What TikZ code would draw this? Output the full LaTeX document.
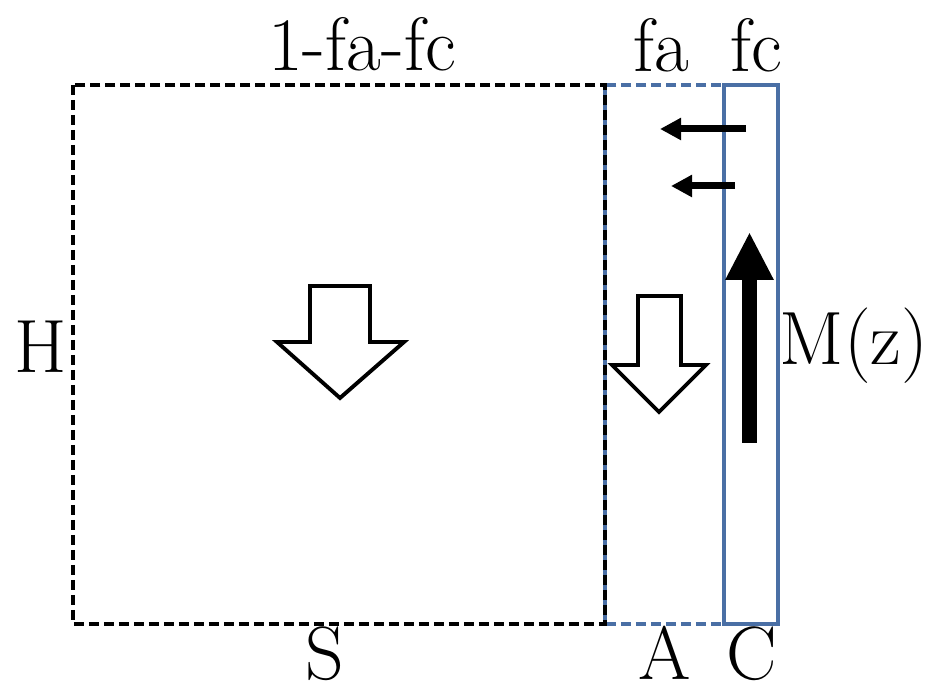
\documentclass[tikz,border=0pt]{standalone}
\usetikzlibrary{arrows.meta}
\definecolor{ink}{HTML}{000000}
\definecolor{steel}{HTML}{4A6FA5}

\begin{document}
\begin{tikzpicture}[x=0.02cm,y=-0.02cm,text=ink,
    font=\fontsize{43}{50}\selectfont,
    box/.style={line width=1.8pt},
    dashbox/.style={box,dash pattern=on 0.2cm off 0.1cm},
    hollow/.style={draw=ink,fill=white,line width=2.2pt,line join=miter},
    lab/.style={anchor=base,inner sep=0pt}]
  \useasboundingbox (0,0) rectangle (926,695);

  % corners of the three layers
  \coordinate (snw) at (73,85);
  \coordinate (ane) at (605,85);
  \coordinate (cnw) at (724,85);
  \coordinate (cse) at (778,624);
  \coordinate (sse) at (605,624);

  \draw[steel,dashbox] (ane) rectangle (724,624);
  \draw[steel,box] (cnw) rectangle (cse);
  \draw[ink,dashbox] (snw) rectangle (sse);

  % labels
  \node[lab] (frac) at (362,71) {1-fa-fc};
  \node[lab] (fa) at (661,72) {fa};
  \node[lab] (fc) at (756,72) {fc};
  \node[lab] (H) at (41,373) {H};
  \node[lab] (Mz) at (854,365) {M(z)};
  \node[lab] (S) at (325,679) {S};
  \node[lab] (A) at (665,679) {A};
  \node[lab] (C) at (752,679) {C};

  % hollow downward arrows
  \draw[hollow] (310,286) -- (370,286) -- (370,342) -- (404,342)
    -- (340,398) -- (277,342) -- (310,342) -- cycle;
  \draw[hollow] (638,296) -- (681,296) -- (681,365) -- (706,365)
    -- (659,412) -- (612,365) -- (638,365) -- cycle;

  % magnetisation and small flux arrows
  \coordinate (mbot) at (749.5,443);
  \coordinate (mtop) at (749.5,232);
  \draw[ink,line width=0.3cm,-{Triangle[length=0.96cm,width=0.9cm]}]
    (mbot) -- (mtop);
  \coordinate (f1a) at (746,129);
  \coordinate (f1b) at (660,129);
  \coordinate (f2a) at (735,186);
  \coordinate (f2b) at (671,186);
  \draw[ink,line width=0.14cm,-{Triangle[length=0.42cm,width=0.42cm]}]
    (f1a) -- (f1b);
  \draw[ink,line width=0.14cm,-{Triangle[length=0.42cm,width=0.42cm]}]
    (f2a) -- (f2b);
\end{tikzpicture}
\end{document}
